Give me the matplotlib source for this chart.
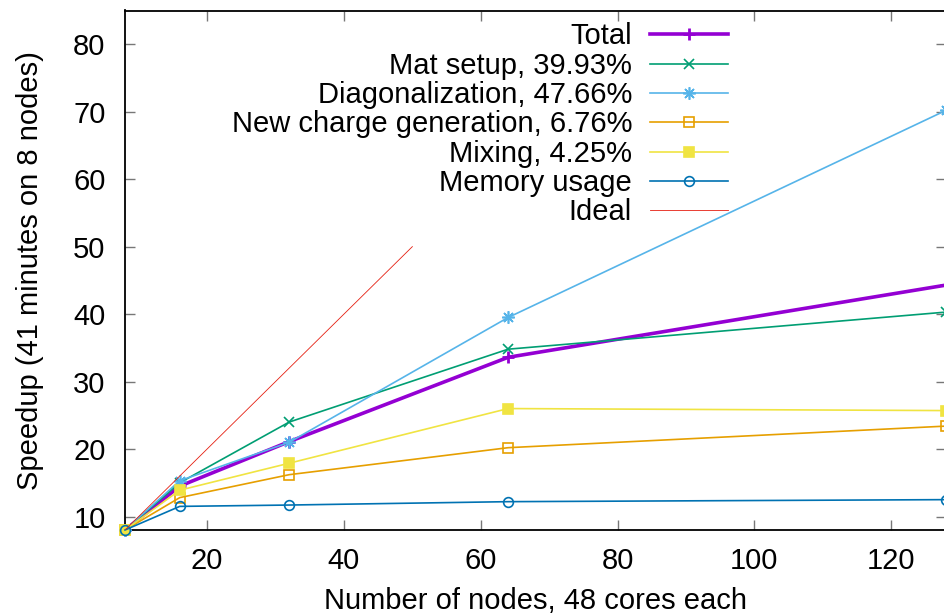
import matplotlib
matplotlib.use("Agg")
import matplotlib.pyplot as plt

plt.rcParams['font.family'] = ['Liberation Sans', 'DejaVu Sans']

nodes = [8, 16, 32, 64, 128]
total = [8.0, 14.5, 21.1, 33.6, 44.3]
mat_setup = [8.0, 15.0, 24.0, 34.8, 40.3]
diagonalization = [8.0, 15.3, 21.0, 39.5, 70.2]
new_charge = [8.0, 12.8, 16.2, 20.2, 23.4]
mixing = [8.0, 13.9, 17.9, 26.0, 25.7]
memory = [8.0, 11.5, 11.7, 12.2, 12.5]
ideal_x = [8, 50]
ideal_y = [8, 50]

labels = ["Total", "Mat setup, 39.93%", "Diagonalization, 47.66%",
          "New charge generation, 6.76%", "Mixing, 4.25%", "Memory usage", "Ideal"]

W, H = 945, 616
fig = plt.figure(figsize=(W / 100, H / 100), dpi=100)
L, R, T, B = 125, 946, 10.5, 530
ax = fig.add_axes([L / W, 1 - B / H, (R - L) / W, (B - T) / H])

FS = 21
ms = 7
ax.plot(nodes, total, color='#9400d3', lw=2.6, marker='+', ms=9, mew=2, label=labels[0], clip_on=False, zorder=3)
ax.plot(nodes, mat_setup, color='#009e73', lw=1.2, marker='x', ms=ms, mew=1.2, label=labels[1], clip_on=False, zorder=4)
ax.plot(nodes, diagonalization, color='#56b4e9', lw=1.2, marker=(8, 2, 0), ms=9, mew=1.2, label=labels[2], clip_on=False, zorder=5)
ax.plot(nodes, new_charge, color='#e69f00', lw=1.2, marker='s', ms=ms, mew=1.2, mfc='none', label=labels[3], clip_on=False, zorder=6)
ax.plot(nodes, mixing, color='#f0e442', lw=1.2, marker='s', ms=ms, mew=1.2, label=labels[4], clip_on=False, zorder=7)
ax.plot(nodes, memory, color='#0072b2', lw=1.2, marker='o', ms=ms, mew=1.2, mfc='none', label=labels[5], clip_on=False, zorder=8)
ax.plot(ideal_x, ideal_y, color='#e51e10', lw=0.6, label=labels[6], zorder=9)

ax.set_xlim(8, 128)
ax.set_ylim(8, 85)
ax.set_xticks([20, 40, 60, 80, 100, 120])
ax.set_yticks([10, 20, 30, 40, 50, 60, 70, 80])

for s in ax.spines.values():
    s.set_linewidth(1.3)
    s.set_color('black')

ax.tick_params(axis='both', which='major', direction='in', length=7, width=1,
               color='#777777', labelsize=FS, top=True, right=True)
ax.tick_params(axis='x', pad=12)
ax.tick_params(axis='y', pad=14)

ax.set_xlabel("Number of nodes, 48 cores each", fontsize=FS, labelpad=9)
ax.set_ylabel("Speedup (41 minutes on 8 nodes)", fontsize=FS, labelpad=21)

leg = ax.legend(loc='upper right', bbox_to_anchor=(728 / W, 1 - 22.5 / H),
                bbox_transform=fig.transFigure, frameon=False, markerfirst=False,
                fontsize=FS, handlelength=2.67, handletextpad=0.62, labelspacing=0.045,
                borderpad=0, borderaxespad=0)

fig.savefig("out.png", dpi=100)
